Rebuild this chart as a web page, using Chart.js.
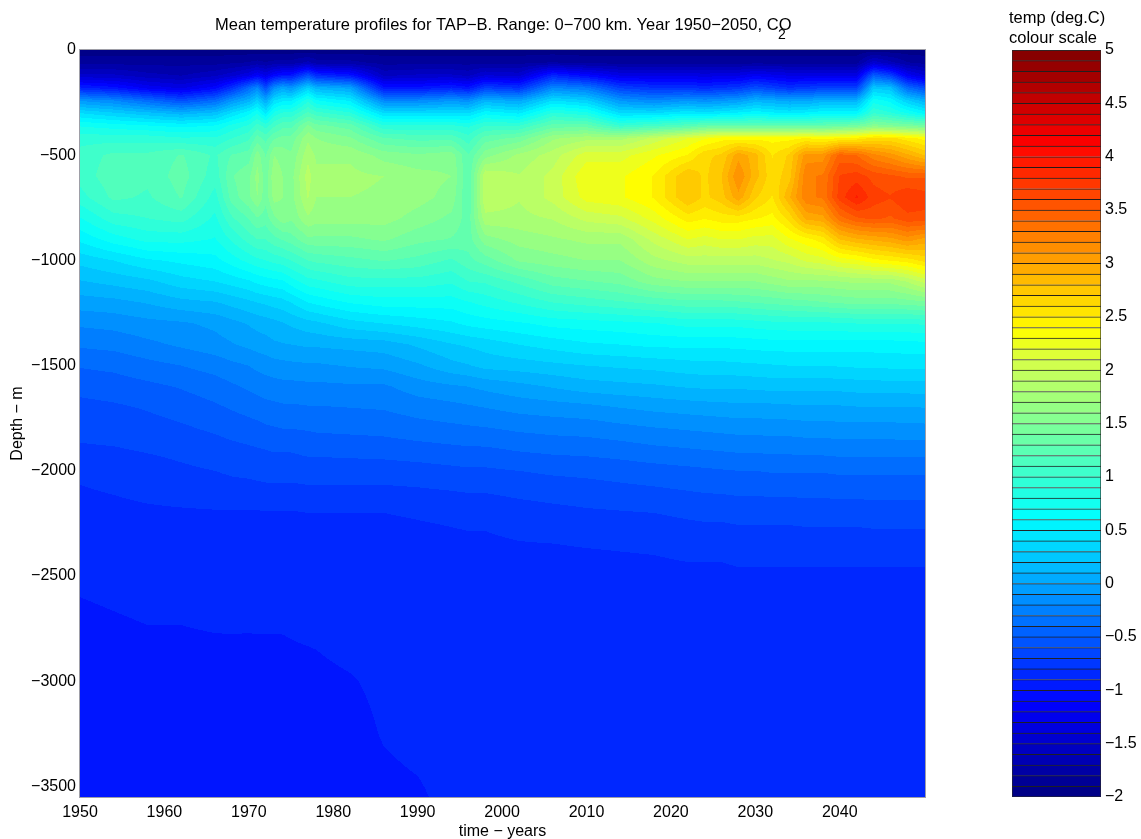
<!DOCTYPE html>
<html>
<head>
<meta charset="utf-8">
<style>
  html, body { margin: 0; padding: 0; background: #fff; }
  canvas { position: absolute; top: 0; }
</style>
<script src="https://cdn.jsdelivr.net/npm/chart.js@4/dist/chart.umd.js"></script>
</head>
<body>
<canvas id="mainChart" width="1000" height="839" style="left:0"></canvas>
<canvas id="scaleChart" width="141" height="839" style="left:1000px"></canvas>
<script>
var baseYears = [1950,1954,1958,1962,1966,1970,1974,1978,1982,1986,1990,1994,1998,2002,2006,2010,2014,2018,2022,2026,2030,2034,2038,2042,2046,2050];
var depths = [0,60,120,180,240,300,360,420,500,600,700,800,900,1000,1100,1200,1300,1400,1500,1600,1700,1800,1900,2000,2200,2400,2600,2800,3000,3250,3550];

// temperature, one row per depth, one value per year
var baseTemps = [
  [-1.95,-1.95,-1.95,-1.95,-1.95,-1.95,-1.95,-1.95,-1.95,-1.95,-1.95,-1.95,-1.95,-1.95,-1.95,-1.95,-1.95,-1.95,-1.95,-1.95,-1.95,-1.95,-1.95,-1.95,-1.95,-1.95],
  [-1.8,-1.8,-1.8,-1.8,-1.8,-1.75,-1.72,-1.7,-1.72,-1.8,-1.8,-1.8,-1.8,-1.8,-1.75,-1.8,-1.8,-1.8,-1.8,-1.8,-1.8,-1.8,-1.8,-1.8,-1.6,-1.8],
  [-1.5,-1.5,-1.6,-1.65,-1.55,-1.3,-1.0,-0.85,-1.0,-1.55,-1.5,-1.5,-1.4,-1.45,-0.9,-1.1,-1.3,-1.3,-1.3,-1.3,-1.2,-1.3,-1.3,-1.3,-0.7,-1.4],
  [-0.9,-1.0,-1.2,-1.3,-1.1,-0.4,0,0.1,0,-1,-1,-0.9,-0.7,-0.8,-0.2,-0.3,-0.7,-0.8,-0.8,-0.8,-0.6,-0.8,-0.7,-0.7,0.2,-0.6],
  [-0.1,-0.2,-0.4,-0.6,-0.4,0.1,0.5,0.65,0.5,-0.2,-0.2,-0.1,0.1,0,0.4,0.3,-0.1,-0.2,-0.1,-0.1,0.1,0,0.1,0.1,0.6,0.1],
  [0.4,0.3,0.2,0.1,0.2,0.6,0.9,1.05,0.9,0.4,0.4,0.4,0.6,0.5,0.9,0.8,0.4,0.4,0.5,0.5,0.6,0.5,0.6,0.6,0.9,0.6],
  [0.75,0.7,0.65,0.6,0.65,0.9,1.2,1.4,1.3,0.9,0.9,0.9,1.0,1.0,1.3,1.3,1.0,1.1,1.2,1.3,1.3,1.3,1.3,1.4,1.5,1.4],
  [0.95,0.95,0.95,0.9,0.9,1.1,1.4,1.6,1.5,1.25,1.2,1.2,1.3,1.4,1.7,1.8,1.8,2.0,2.2,2.4,2.4,2.4,2.4,2.5,2.6,2.4],
  [1.05,1.15,1.15,1.25,1.1,1.3,1.55,1.7,1.7,1.55,1.5,1.55,1.55,1.75,1.9,2.15,2.15,2.3,2.45,2.7,2.85,2.7,3.1,3.4,3.1,2.8],
  [1.05,1.2,1.15,1.3,1.05,1.45,1.6,1.75,1.75,1.72,1.65,1.6,1.95,1.85,2.0,2.3,2.3,2.45,2.8,2.8,2.85,2.75,3.3,3.7,3.55,3.5],
  [0.95,1.15,1.1,1.25,0.95,1.45,1.6,1.72,1.72,1.7,1.65,1.55,1.95,1.85,2.0,2.25,2.3,2.45,2.8,2.75,2.7,2.9,3.3,3.9,3.65,3.7],
  [0.75,0.95,1.0,1.05,0.85,1.25,1.55,1.65,1.65,1.65,1.55,1.45,1.8,1.8,1.85,2.0,2.05,2.25,2.5,2.5,2.45,2.6,3.0,3.5,3.5,3.6],
  [0.55,0.7,0.8,0.8,0.75,1.05,1.25,1.45,1.45,1.5,1.4,1.35,1.55,1.65,1.7,1.75,1.75,2.0,2.2,2.2,2.15,2.3,2.5,2.9,3.0,3.0],
  [0.32,0.4,0.5,0.55,0.6,0.8,0.95,1.15,1.2,1.25,1.2,1.1,1.3,1.5,1.55,1.6,1.6,1.8,1.9,1.9,1.9,2.0,2.15,2.3,2.45,2.6],
  [0.15,0.2,0.25,0.35,0.4,0.5,0.62,0.85,0.95,0.95,0.95,0.9,1.02,1.15,1.3,1.35,1.4,1.55,1.6,1.6,1.6,1.7,1.7,1.75,1.75,2.0],
  [-0.02,0,0.05,0.12,0.15,0.25,0.35,0.55,0.65,0.7,0.7,0.7,0.8,0.9,1.0,1.05,1.1,1.15,1.2,1.2,1.25,1.3,1.35,1.4,1.4,1.45],
  [-0.18,-0.16,-0.12,-0.1,-0.05,0.05,0.15,0.25,0.35,0.4,0.45,0.5,0.58,0.62,0.68,0.7,0.72,0.75,0.8,0.8,0.82,0.85,0.85,0.88,0.88,0.9],
  [-0.3,-0.28,-0.23,-0.18,-0.13,-0.05,0.03,0.06,0.08,0.1,0.18,0.27,0.33,0.4,0.45,0.5,0.52,0.55,0.55,0.55,0.57,0.58,0.58,0.58,0.58,0.6],
  [-0.43,-0.41,-0.36,-0.32,-0.27,-0.2,-0.12,-0.1,-0.07,-0.05,0.02,0.12,0.2,0.22,0.25,0.28,0.3,0.32,0.35,0.36,0.38,0.4,0.4,0.42,0.43,0.43],
  [-0.52,-0.5,-0.47,-0.43,-0.38,-0.3,-0.24,-0.23,-0.22,-0.22,-0.14,-0.1,-0.05,0,0.05,0.1,0.12,0.14,0.17,0.18,0.19,0.2,0.2,0.21,0.22,0.23],
  [-0.6,-0.58,-0.55,-0.51,-0.46,-0.4,-0.34,-0.33,-0.32,-0.31,-0.27,-0.24,-0.2,-0.16,-0.14,-0.12,-0.08,-0.05,-0.03,-0.01,0,0.01,0.02,0.03,0.03,0.04],
  [-0.64,-0.63,-0.61,-0.58,-0.54,-0.49,-0.44,-0.42,-0.41,-0.4,-0.37,-0.35,-0.33,-0.3,-0.28,-0.27,-0.24,-0.21,-0.19,-0.17,-0.16,-0.15,-0.14,-0.13,-0.13,-0.12],
  [-0.7,-0.69,-0.67,-0.65,-0.62,-0.58,-0.55,-0.53,-0.52,-0.51,-0.49,-0.47,-0.46,-0.43,-0.41,-0.4,-0.38,-0.35,-0.33,-0.31,-0.3,-0.29,-0.28,-0.27,-0.27,-0.27],
  [-0.78,-0.76,-0.73,-0.7,-0.68,-0.65,-0.63,-0.62,-0.62,-0.62,-0.61,-0.59,-0.58,-0.56,-0.54,-0.53,-0.51,-0.49,-0.47,-0.45,-0.44,-0.43,-0.43,-0.42,-0.42,-0.42],
  [-0.84,-0.83,-0.82,-0.815,-0.81,-0.81,-0.81,-0.8,-0.8,-0.8,-0.79,-0.78,-0.77,-0.74,-0.72,-0.7,-0.69,-0.68,-0.66,-0.65,-0.64,-0.64,-0.63,-0.63,-0.62,-0.62],
  [-0.87,-0.87,-0.86,-0.86,-0.86,-0.86,-0.87,-0.86,-0.86,-0.86,-0.85,-0.84,-0.84,-0.83,-0.83,-0.82,-0.81,-0.8,-0.79,-0.79,-0.78,-0.78,-0.78,-0.78,-0.78,-0.78],
  [-0.92,-0.91,-0.9,-0.9,-0.89,-0.89,-0.88,-0.88,-0.87,-0.87,-0.87,-0.86,-0.85,-0.85,-0.85,-0.85,-0.85,-0.85,-0.85,-0.85,-0.85,-0.85,-0.85,-0.85,-0.85,-0.85],
  [-0.95,-0.94,-0.93,-0.93,-0.925,-0.925,-0.925,-0.915,-0.9,-0.89,-0.88,-0.87,-0.86,-0.86,-0.86,-0.86,-0.86,-0.86,-0.86,-0.86,-0.86,-0.86,-0.86,-0.86,-0.86,-0.86],
  [-0.97,-0.96,-0.95,-0.95,-0.95,-0.94,-0.94,-0.935,-0.925,-0.905,-0.89,-0.88,-0.87,-0.87,-0.87,-0.87,-0.87,-0.87,-0.87,-0.87,-0.87,-0.87,-0.87,-0.87,-0.87,-0.87],
  [-0.98,-0.97,-0.97,-0.97,-0.97,-0.96,-0.96,-0.95,-0.945,-0.915,-0.9,-0.89,-0.88,-0.88,-0.88,-0.88,-0.88,-0.88,-0.88,-0.88,-0.88,-0.88,-0.88,-0.88,-0.88,-0.88],
  [-0.99,-0.98,-0.98,-0.98,-0.98,-0.97,-0.97,-0.97,-0.96,-0.94,-0.93,-0.9,-0.89,-0.89,-0.89,-0.89,-0.89,-0.89,-0.89,-0.89,-0.89,-0.89,-0.89,-0.89,-0.89,-0.89]
];

// extra columns, read where the field has narrow vertical stripes; one value per depth
var stripeColumns = {
  1968: [-1.95,-1.78,-1.45,-0.8,-0.1,0.42,0.8,1.0,1.25,1.35,1.3,1.1,0.9,0.7,0.45,0.2,0,-0.09,-0.23,-0.34,-0.43,-0.51,-0.6,-0.66,-0.81,-0.86,-0.885,-0.925,-0.945,-0.965,-0.975],
  1971: [-1.95,-1.72,-1.15,-0.2,0.3,0.75,1.05,1.3,1.55,1.65,1.6,1.35,1.12,0.85,0.55,0.28,0.08,-0.03,-0.17,-0.28,-0.38,-0.48,-0.57,-0.64,-0.81,-0.86,-0.885,-0.925,-0.94,-0.96,-0.97],
  1972: [-1.95,-1.75,-1.3,-0.6,0.05,0.5,0.95,1.2,1.35,1.4,1.4,1.3,1.12,0.88,0.58,0.3,0.1,-0.01,-0.15,-0.26,-0.36,-0.46,-0.56,-0.63,-0.81,-0.865,-0.885,-0.925,-0.94,-0.96,-0.97],
  1973: [-1.95,-1.72,-1.1,-0.15,0.4,0.8,1.1,1.35,1.6,1.7,1.65,1.45,1.2,0.92,0.6,0.33,0.12,0.02,-0.13,-0.25,-0.35,-0.45,-0.55,-0.63,-0.81,-0.87,-0.885,-0.925,-0.94,-0.96,-0.97],
  1975: [-1.95,-1.72,-1.0,-0.1,0.5,0.9,1.2,1.4,1.5,1.55,1.55,1.5,1.3,1.0,0.7,0.4,0.18,0.04,-0.11,-0.24,-0.34,-0.44,-0.55,-0.63,-0.81,-0.87,-0.88,-0.92,-0.935,-0.955,-0.97],
  1977: [-1.95,-1.6,-0.6,0.3,0.85,1.15,1.5,1.7,1.8,1.9,1.85,1.7,1.45,1.12,0.83,0.52,0.23,0.06,-0.1,-0.23,-0.33,-0.43,-0.53,-0.62,-0.8,-0.86,-0.88,-0.917,-0.935,-0.95,-0.97],
  1996: [-1.95,-1.8,-1.55,-1.0,-0.15,0.4,0.85,1.05,1.25,1.25,1.25,1.3,1.3,1.2,1.0,0.75,0.55,0.3,0.15,-0.08,-0.22,-0.34,-0.46,-0.58,-0.77,-0.84,-0.855,-0.865,-0.875,-0.885,-0.895],
  2024: [-1.95,-1.8,-1.35,-0.85,-0.15,0.45,1.3,2.3,2.65,2.65,2.65,2.45,2.15,1.9,1.6,1.2,0.8,0.55,0.36,0.18,-0.02,-0.18,-0.32,-0.46,-0.65,-0.79,-0.85,-0.86,-0.87,-0.88,-0.89],
  2028: [-1.95,-1.8,-1.3,-0.75,-0.05,0.55,1.3,2.4,3.0,3.15,3.0,2.5,2.2,1.9,1.6,1.22,0.8,0.56,0.37,0.18,0,-0.16,-0.3,-0.44,-0.64,-0.78,-0.85,-0.86,-0.87,-0.88,-0.89],
  2032: [-1.95,-1.8,-1.25,-0.7,0.05,0.55,1.3,2.4,2.55,2.6,2.55,2.4,2.15,1.95,1.65,1.27,0.84,0.58,0.39,0.2,0,-0.15,-0.29,-0.43,-0.64,-0.78,-0.85,-0.86,-0.87,-0.88,-0.89],
  2036: [-1.95,-1.8,-1.3,-0.75,0,0.55,1.3,2.45,3.1,3.25,3.25,2.95,2.4,2.1,1.7,1.32,0.85,0.58,0.4,0.2,0.02,-0.14,-0.28,-0.43,-0.63,-0.78,-0.85,-0.86,-0.87,-0.88,-0.89],
  2040: [-1.95,-1.8,-1.3,-0.7,0.1,0.6,1.35,2.45,3.45,3.65,3.7,3.35,2.8,2.25,1.72,1.38,0.86,0.58,0.41,0.2,0.02,-0.13,-0.27,-0.42,-0.63,-0.78,-0.85,-0.86,-0.87,-0.88,-0.89],
  2044: [-1.95,-1.45,-0.5,0.25,0.7,1.0,1.55,2.6,3.2,3.6,3.7,3.55,2.95,2.4,1.75,1.4,0.88,0.58,0.42,0.22,0.03,-0.13,-0.27,-0.42,-0.62,-0.78,-0.85,-0.86,-0.87,-0.88,-0.89],
  2048: [-1.95,-1.75,-1.2,-0.4,0.3,0.75,1.45,2.5,2.95,3.5,3.75,3.6,3.1,2.5,1.85,1.42,0.88,0.59,0.43,0.22,0.03,-0.12,-0.27,-0.42,-0.62,-0.78,-0.85,-0.86,-0.87,-0.88,-0.89]
};

var xTicks = [1950,1960,1970,1980,1990,2000,2010,2020,2030,2040];
var yTicks = [0,-500,-1000,-1500,-2000,-2500,-3000,-3500];
var scaleTicks = [5,4.5,4,3.5,3,2.5,2,1.5,1,0.5,0,-0.5,-1,-1.5,-2];
// edges of the colour scale bands
var scaleEdges = [-2,-1.9,-1.8,-1.7,-1.6,-1.5,-1.4,-1.3,-1.2,-1.1,-1,-0.9,-0.8,-0.7,-0.6,-0.5,-0.4,-0.3,-0.2,-0.1,0,0.1,0.2,0.3,0.4,0.5,0.6,0.7,0.8,0.9,1,1.1,1.2,1.3,1.4,1.5,1.6,1.7,1.8,1.9,2,2.1,2.2,2.3,2.4,2.5,2.6,2.7,2.8,2.9,3,3.1,3.2,3.3,3.4,3.5,3.6,3.7,3.8,3.9,4,4.1,4.2,4.3,4.4,4.5,4.6,4.7,4.8,4.9,5];

var FONT = '"Liberation Sans", Arial, sans-serif';
var contourStep = 0.12;

// merge the stripe columns into one grid, sorted by year
var years = baseYears.concat(Object.keys(stripeColumns).map(Number)).sort(function (a, b) { return a - b; });
var temps = depths.map(function (d, r) {
  return years.map(function (y) {
    var c = baseYears.indexOf(y);
    return c >= 0 ? baseTemps[r][c] : stripeColumns[y][r];
  });
});

function jet(t) {
  // t is temperature, scale runs -2 to 5, blue falls slower than plain jet through the greens
  var v = (t + 2) / 7;
  function ch(c) { return Math.round(255 * Math.max(0, Math.min(1, 1.5 - Math.abs(4 * v - c)))); }
  var b = ch(1);
  if (t > 0.625 && t < 2.375) {
    if (t < 1) b = 255 - (t - 0.625) / 0.375 * 45;
    else if (t < 1.5) b = 210 - (t - 1) / 0.5 * 60;
    else if (t < 2) b = 150 - (t - 1.5) / 0.5 * 60;
    else b = 90 - (t - 2) / 0.375 * 90;
    b = Math.round(b);
  }
  return [ch(3), ch(2), b];
}

function minus(v) { return String(v).replace('-', '\u2212'); }

function bracket(arr, v) {
  var i = 0;
  while (i < arr.length - 2 && arr[i + 1] < v) i++;
  return i;
}

// paints the filled contours, pixel positions come from the chart scales
var contourPlugin = {
  id: 'contourFill',
  beforeDatasetsDraw: function (chart) {
    var a = chart.chartArea, sx = chart.scales.x, sy = chart.scales.y;
    var w = Math.round(a.right - a.left), h = Math.round(a.bottom - a.top);
    var off = document.createElement('canvas');
    off.width = w; off.height = h;
    var octx = off.getContext('2d');
    var img = octx.createImageData(w, h);
    for (var py = 0; py < h; py++) {
      var d = -sy.getValueForPixel(a.top + py + 0.5);
      var r = bracket(depths, d);
      var fy = Math.max(0, Math.min(1, (d - depths[r]) / (depths[r + 1] - depths[r])));
      for (var px = 0; px < w; px++) {
        var yr = sx.getValueForPixel(a.left + px + 0.5);
        var c = bracket(years, yr);
        var fx = Math.max(0, Math.min(1, (yr - years[c]) / (years[c + 1] - years[c])));
        var t = (temps[r][c] * (1 - fx) + temps[r][c + 1] * fx) * (1 - fy) +
                (temps[r + 1][c] * (1 - fx) + temps[r + 1][c + 1] * fx) * fy;
        var band = Math.floor((t + 0.8) / contourStep);
        var rgb = jet(-0.8 + (band + 0.5) * contourStep);
        var k = (py * w + px) * 4;
        img.data[k] = rgb[0]; img.data[k + 1] = rgb[1]; img.data[k + 2] = rgb[2]; img.data[k + 3] = 255;
      }
    }
    octx.putImageData(img, 0, 0);
    chart.ctx.drawImage(off, a.left, a.top);
  },
  afterDraw: function (chart) {
    var ctx = chart.ctx, a = chart.chartArea;
    ctx.save();
    ctx.strokeStyle = 'rgba(40,40,60,0.45)';
    ctx.lineWidth = 1;
    ctx.strokeRect(a.left - 0.5, a.top - 0.5, a.right - a.left + 1, a.bottom - a.top + 1);
    ctx.fillStyle = '#000';
    ctx.font = '16.5px ' + FONT;
    ctx.textBaseline = 'alphabetic';
    ctx.textAlign = 'left';
    ctx.fillText('Mean temperature profiles for TAP\u2212B. Range: 0\u2212700 km. Year 1950\u22122050, CO', 215, 30);
    ctx.font = '14px ' + FONT;
    ctx.fillText('2', 778, 39);
    ctx.restore();
  }
};

var nodes = [];
depths.forEach(function (d) {
  years.forEach(function (y) { nodes.push({ x: y, y: -d }); });
});

new Chart(document.getElementById('mainChart'), {
  type: 'scatter',
  data: { datasets: [{ label: 'temp', data: nodes, pointRadius: 0 }] },
  options: {
    responsive: false,
    animation: false,
    events: [],
    layout: { padding: { top: 50, right: 75, left: 0, bottom: 0 } },
    plugins: { legend: { display: false }, tooltip: { enabled: false } },
    scales: {
      x: {
        type: 'linear', min: 1950, max: 2050.1,
        grid: { display: false, tickLength: 0 }, border: { display: false },
        afterBuildTicks: function (s) { s.ticks = xTicks.map(function (v) { return { value: v }; }); },
        afterFit: function (s) { s.height = 42; },
        ticks: { color: '#000', autoSkip: false, maxRotation: 0, font: { family: FONT, size: 16 }, padding: 6,
                 callback: function (v) { return String(v); } },
        title: { display: true, text: 'time \u2212 years', color: '#000', font: { family: FONT, size: 16 }, padding: { top: 2, bottom: -2 } }
      },
      y: {
        type: 'linear', min: -3550, max: 0,
        grid: { display: false, tickLength: 0 }, border: { display: false },
        afterBuildTicks: function (s) { s.ticks = yTicks.map(function (v) { return { value: v }; }); },
        afterFit: function (s) { s.width = 80; },
        ticks: { color: '#000', autoSkip: false, font: { family: FONT, size: 16 }, padding: 4,
                 callback: function (v) { return minus(v); } },
        title: { display: true, text: 'Depth \u2212 m', color: '#000', font: { family: FONT, size: 16 }, padding: { top: 8, bottom: 0 } }
      }
    }
  },
  plugins: [contourPlugin]
});

// colour scale as floating bars, one per band
var bandSets = [];
for (var i = 0; i < scaleEdges.length - 1; i++) {
  var rgb = jet((scaleEdges[i] + scaleEdges[i + 1]) / 2);
  bandSets.push({
    data: [[scaleEdges[i], scaleEdges[i + 1]]],
    backgroundColor: 'rgb(' + rgb.join(',') + ')',
    borderColor: 'rgba(0,0,0,0.85)',
    borderWidth: { top: 1, right: 0, bottom: 0, left: 0 },
    borderSkipped: false,
    grouped: false,
    barPercentage: 1,
    categoryPercentage: 1
  });
}

var scaleTitle = {
  id: 'scaleTitle',
  afterDraw: function (chart) {
    var ctx = chart.ctx, a = chart.chartArea;
    ctx.save();
    ctx.strokeStyle = 'rgba(40,40,40,0.6)';
    ctx.lineWidth = 1;
    ctx.strokeRect(a.left + 0.5, a.top + 0.5, a.right - a.left - 1, a.bottom - a.top - 1);
    ctx.fillStyle = '#000';
    ctx.font = '16.5px ' + FONT;
    ctx.textAlign = 'left';
    ctx.fillText('temp (deg.C)', 9, 23);
    ctx.fillText('colour scale', 9, 43);
    ctx.restore();
  }
};

new Chart(document.getElementById('scaleChart'), {
  type: 'bar',
  data: { labels: ['scale'], datasets: bandSets },
  options: {
    responsive: false,
    animation: false,
    events: [],
    layout: { padding: { top: 50, bottom: 42, left: 12, right: 0 } },
    plugins: { legend: { display: false }, tooltip: { enabled: false } },
    scales: {
      x: { display: false },
      y: {
        type: 'linear', position: 'right', min: -2, max: 5,
        grid: { display: false, tickLength: 0 }, border: { display: false },
        afterBuildTicks: function (s) { s.ticks = scaleTicks.map(function (v) { return { value: v }; }); },
        afterFit: function (s) { s.width = 40; },
        ticks: { color: '#000', autoSkip: false, font: { family: FONT, size: 16 }, padding: 4,
                 callback: function (v) { return minus(v); } }
      }
    }
  },
  plugins: [scaleTitle]
});
</script>
</body>
</html>
